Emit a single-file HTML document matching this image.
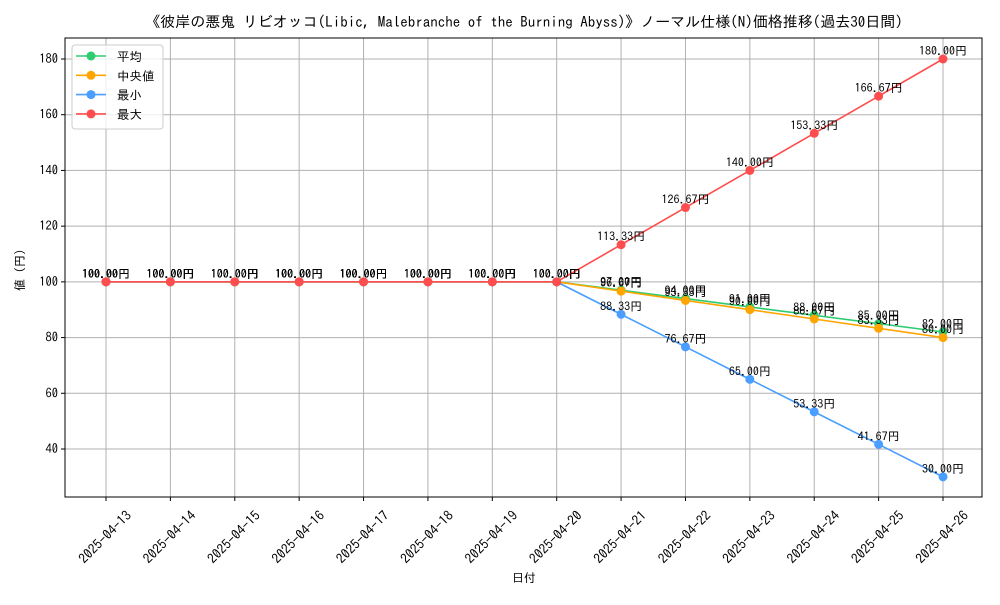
<!DOCTYPE html>
<html><head><meta charset="utf-8"><style>
body{margin:0;background:#fff}
svg text{font-family:"IPAGothic","Liberation Sans","Noto Sans CJK JP",sans-serif;fill:#000}
</style></head><body>
<svg id="chart" width="1000" height="600" xmlns="http://www.w3.org/2000/svg">
<rect width="1000" height="600" fill="#fff"/>
<text x="524" y="27" font-size="15" text-anchor="middle">《彼岸の悪鬼 リビオッコ(Libic, Malebranche of the Burning Abyss)》ノーマル仕様(N)価格推移(過去30日間)</text>
<g id="grid"></g><g id="axes"></g><g id="series"></g>
<text x="524" y="582" font-size="12" text-anchor="middle">日付</text>
<text transform="translate(24,270) rotate(-90)" font-size="12" text-anchor="middle">値 (円)</text>
<g id="legend"></g>
</svg>
<script>
const dates=["2025-04-13","2025-04-14","2025-04-15","2025-04-16","2025-04-17","2025-04-18","2025-04-19","2025-04-20","2025-04-21","2025-04-22","2025-04-23","2025-04-24","2025-04-25","2025-04-26"];
const avgVals=[100,100,100,100,100,100,100,100,97,94,91,88,85,82];
const medianVals=[100,100,100,100,100,100,100,100,96.67,93.33,90,86.67,83.33,80];
const minVals=[100,100,100,100,100,100,100,100,88.33,76.67,65,53.33,41.67,30];
const maxVals=[100,100,100,100,100,100,100,100,113.33,126.67,140,153.33,166.67,180];
const yTicks=[40,60,80,100,120,140,160,180];
const seriesNames=["平均","中央値","最小","最大"];
const NS="http://www.w3.org/2000/svg";
const L=65,R=982,T=38,B=497;
const x=i=>106+i*(943-106)/13;
const y=v=>449-(v-40)*(449-59)/140;
function mk(tag,attrs,parent,txt){const e=document.createElementNS(NS,tag);for(const k in attrs)e.setAttribute(k,attrs[k]);if(txt!=null)e.textContent=txt;parent.appendChild(e);return e;}
const grid=document.getElementById('grid'),axes=document.getElementById('axes'),sg=document.getElementById('series'),lg=document.getElementById('legend');
yTicks.forEach(v=>{
 const l=mk('line',{x1:L,x2:R,y1:y(v),y2:y(v),stroke:'#b0b0b0','stroke-width':1},grid);
 
 
 mk('line',{x1:L-4,x2:L,y1:y(v),y2:y(v),stroke:'#000'},axes);
 const t=mk('text',{x:L-7,y:y(v)+4,'font-size':12.5,'text-anchor':'end'},axes,v);
 
 
});
dates.forEach((d,i)=>{
 const l=mk('line',{x1:x(i),x2:x(i),y1:T,y2:B,stroke:'#b0b0b0','stroke-width':1},grid);
 
 
 mk('line',{x1:x(i),x2:x(i),y1:B,y2:B+4,stroke:'#000'},axes);
 const t=mk('text',{transform:`translate(${x(i)-1},${537}) rotate(-45)`,'font-size':13.5,'text-anchor':'middle',dy:'0.35em'},axes,d);
 
 
});
const fr=mk('rect',{x:L,y:T,width:R-L,height:B-T,fill:'none',stroke:'#000','stroke-width':1},axes);


const all=[avgVals,medianVals,minVals,maxVals];
const colors=["#2ecc71","#ffa500","#4a9eff","#ff4d4d"];
const keys=["avg","median","min","max"];
all.forEach((vals,s)=>{
 const g=mk('g',{},sg);
 
 
 const p=mk('polyline',{points:vals.map((v,i)=>x(i)+','+y(v)).join(' '),fill:'none',stroke:colors[s],'stroke-width':1.6},g);
 
 
 vals.forEach((v,i)=>{
  const c=mk('circle',{cx:x(i),cy:y(v),r:4.5,fill:colors[s]},g);
  
  
  const t=mk('text',{x:x(i),y:y(v)-4,'font-size':12,'text-anchor':'middle'},g,v.toFixed(2)+'円');
  
  
 });
});
const lb=mk('rect',{x:72,y:45,width:91,height:84,rx:3,fill:'#fff','fill-opacity':0.8,stroke:'#ccc'},lg);


seriesNames.forEach((n,s)=>{
 const yy=56+s*19.3;
 const g=mk('g',{},lg);
 
 
 mk('line',{x1:76,x2:106,y1:yy,y2:yy,stroke:colors[s],'stroke-width':1.6},g);
 mk('circle',{cx:91,cy:yy,r:4.5,fill:colors[s]},g);
 mk('text',{x:117,y:yy+5,'font-size':12.5},g,n);
});
</script>
</body></html>
